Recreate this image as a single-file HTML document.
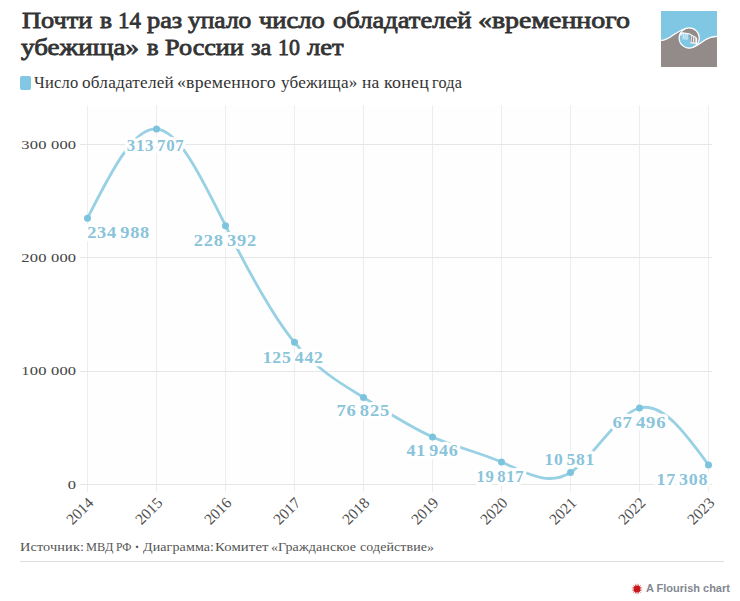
<!DOCTYPE html>
<html><head><meta charset="utf-8">
<style>
html,body{margin:0;padding:0;background:#fff;}
body{width:740px;height:601px;position:relative;overflow:hidden;font-family:"Liberation Serif",serif;color:#333;}
.t{position:absolute;white-space:nowrap;}
#title span{position:absolute;white-space:nowrap;font-size:23px;line-height:26px;color:#333;-webkit-text-stroke:0.8px #333;transform-origin:0 0;}
#leg span{position:absolute;white-space:nowrap;font-size:16px;letter-spacing:0.2px;color:#333;transform-origin:0 0;}
#sw{position:absolute;left:20px;top:76px;width:11px;height:14px;border-radius:2px;background:#82c8e5;}
#src span{position:absolute;white-space:nowrap;font-size:13.5px;letter-spacing:0.1px;color:#555;transform-origin:0 0;}
#hr{position:absolute;left:20px;top:561px;width:704px;height:1px;background:#ddd;}
#fl{left:646px;top:582px;font-family:"Liberation Sans",sans-serif;font-weight:bold;font-size:11px;color:#838890;}
svg{position:absolute;left:0;top:0;}
</style></head><body>
<div id="title"><span style="left:21.80px;top:8px;transform:scaleX(1.1452)">Почти</span><span style="left:99.70px;top:8px;transform:scaleX(1.1091)">в</span><span style="left:117.50px;top:8px;transform:scaleX(0.9955)">14</span><span style="left:147.00px;top:8px;transform:scaleX(1.1452)">раз</span><span style="left:187.70px;top:8px;transform:scaleX(1.1070)">упало</span><span style="left:258.90px;top:8px;transform:scaleX(1.1509)">число</span><span style="left:333.20px;top:8px;transform:scaleX(1.1558)">обладателей</span><span style="left:478.29px;top:8px;transform:scaleX(1.2121)">«временного</span><span style="left:21.40px;top:35px;transform:scaleX(1.1760)">убежища»</span><span style="left:146.60px;top:35px;transform:scaleX(1.0727)">в</span><span style="left:165.00px;top:35px;transform:scaleX(1.1377)">России</span><span style="left:251.10px;top:35px;transform:scaleX(1.0550)">за</span><span style="left:277.65px;top:35px;transform:scaleX(0.9500)">10</span><span style="left:307.00px;top:35px;transform:scaleX(1.1531)">лет</span></div>
<svg id="logo" style="left:661px;top:11px" width="56" height="56" viewBox="0 0 56 56">
  <rect width="56" height="56" fill="#80c7e3"/>
  <path fill="#928b8a" d="M0,29.4C5,29.4 9,26.5 13,23.5C16,21.2 20,18.9 24.75,17.5A10.1,10.1 0 0 0 31.65,36.5C36,34.9 40,32 44,29C48,26.5 52,25.5 56,25.3V56H0Z"/>
  <path fill="#928b8a" d="M19.73,21.5A10.1,10.1 0 0 1 37.69,30.45L35.5,32.6L29.6,31.9L28,22.8L20.6,21.8Z"/>
  <g fill="none" stroke="#fff" stroke-width="1.2" stroke-linecap="round">
    <path d="M0,29.4C5,29.4 9,26.5 13,23.5C16,21.2 20,18.9 24.75,17.5M31.65,36.5C36,34.9 40,32 44,29C48,26.5 52,25.5 56,25.3"/>
    <circle cx="28.2" cy="27" r="10.1"/>
    <path stroke-width="1.1" d="M19.9,24.2C20,22.6 20.5,21.9 21.6,21.9L28,22.8L34.8,26.6C35.5,27 35.6,27.8 35.6,28.5L35.5,32.4L29.6,31.8"/>
    <path stroke-width="0.85" d="M22.3,23L22.1,28M24.2,23.2L24,28.2M26.1,23.4L25.9,28.4M30.4,25.4L30.2,31.4M32.5,26.4L32.3,31.8M34.3,27.4L34.2,31.9"/>
  </g>
</svg>
<div id="sw"></div>
<div id="leg"><span style="left:33.70px;top:74px;transform:scaleX(1.0310)">Число</span><span style="left:81.90px;top:74px;transform:scaleX(1.0741)">обладателей</span><span style="left:177.19px;top:74px;transform:scaleX(1.1068)">«временного</span><span style="left:280.50px;top:74px;transform:scaleX(1.0704)">убежища»</span><span style="left:362.40px;top:74px;transform:scaleX(1.09)">на</span><span style="left:383.50px;top:74px;transform:scaleX(1.1225)">конец</span><span style="left:431.60px;top:74px;transform:scaleX(1.0100)">года</span></div>

<svg width="740" height="601" viewBox="0 0 740 601">
  <rect x="88" y="106" width="620" height="378" fill="#fefefe"/>
  <g stroke-width="1" fill="none">
    <path stroke="#ededed" d="M87.5,105.5V492M156.5,105.5V492M225.5,105.5V492M294.5,105.5V492M363.5,105.5V492M432.5,105.5V492M501.5,105.5V492M570.5,105.5V492M639.5,105.5V492M708.5,105.5V492"/>
    <path stroke="#e6e6e6" d="M80,144.5H712M80,257.5H712M80,371.5H712M80,484.5H712"/>
  </g>
  <g font-family="Liberation Serif" font-size="12.8" letter-spacing="0.15" fill="#444" text-anchor="end">
    <text transform="translate(76.3,148.7) scale(1.29,1)">300 000</text>
    <text transform="translate(76.3,262.0) scale(1.29,1)">200 000</text>
    <text transform="translate(76.3,375.4) scale(1.29,1)">100 000</text>
    <text transform="translate(76.3,488.8) scale(1.29,1)">0</text>
  </g>
  <g font-family="Liberation Serif" font-size="15.5" fill="#505050" text-anchor="end">
    <text transform="translate(94.5,503.7) rotate(-45)">2014</text>
    <text transform="translate(163.5,503.7) rotate(-45)">2015</text>
    <text transform="translate(232.5,503.7) rotate(-45)">2016</text>
    <text transform="translate(301.5,503.7) rotate(-45)">2017</text>
    <text transform="translate(370.5,503.7) rotate(-45)">2018</text>
    <text transform="translate(439.5,503.7) rotate(-45)">2019</text>
    <text transform="translate(508.5,503.7) rotate(-45)">2020</text>
    <text transform="translate(577.5,503.7) rotate(-45)">2021</text>
    <text transform="translate(646.5,503.7) rotate(-45)">2022</text>
    <text transform="translate(715.5,503.7) rotate(-45)">2023</text>
  </g>
  <path fill="none" stroke="#98d0e4" stroke-width="2.8" stroke-linecap="round" d="M87.50,218.18C110.50,172.69,133.50,127.20,156.50,128.97C179.50,130.73,202.50,179.74,225.50,225.66C248.50,271.58,271.50,314.40,294.50,342.33C317.50,370.26,340.50,383.29,363.50,397.43C386.50,411.58,409.50,426.84,432.50,436.96C455.50,447.08,478.50,452.07,501.50,462.04C524.50,472.01,547.50,486.97,570.50,472.51C593.50,458.05,616.50,414.18,639.50,408.00C662.50,401.83,685.50,433.36,708.50,464.88"/>
  <g font-family="Liberation Serif" font-weight="bold" font-size="17.2" letter-spacing="0.7" word-spacing="-2" fill="#8ac4da" stroke="#fff" stroke-width="6.5" stroke-linejoin="round" paint-order="stroke">
    <text transform="translate(87.15,237.7) scale(1.0705,1)">234 988</text>
    <text transform="translate(126.81,150.7) scale(0.9790,1)">313 707</text>
    <text transform="translate(193.73,245.7) scale(1.0758,1)">228 392</text>
    <text transform="translate(262.72,362.7) scale(1.0376,1)">125 442</text>
    <text transform="translate(336.51,416.2) scale(1.0810,1)">76 825</text>
    <text transform="translate(406.51,456.2) scale(1.0503,1)">41 946</text>
    <text transform="translate(476.46,481.7) scale(0.9660,1)">19 817</text>
    <text transform="translate(544.55,464.7) scale(1.0217,1)">10 581</text>
    <text transform="translate(612.44,427.7) scale(1.0898,1)">67 496</text>
    <text transform="translate(656.51,484.7) scale(1.0435,1)">17 308</text>
  </g>
  <g fill="#7cc4de">
    <circle cx="87.5" cy="218.18" r="3.5"/>
    <circle cx="156.5" cy="128.97" r="3.5"/>
    <circle cx="225.5" cy="225.66" r="3.5"/>
    <circle cx="294.5" cy="342.33" r="3.5"/>
    <circle cx="363.5" cy="397.43" r="3.5"/>
    <circle cx="432.5" cy="436.96" r="3.5"/>
    <circle cx="501.5" cy="462.04" r="3.5"/>
    <circle cx="570.5" cy="472.51" r="3.5"/>
    <circle cx="639.5" cy="408.00" r="3.5"/>
    <circle cx="708.5" cy="464.88" r="3.5"/>
  </g>
</svg>

<div id="src"><span style="left:20.44px;top:539px;transform:scaleX(1.0621)">Источник:</span><span style="left:85.99px;top:539px;transform:scaleX(0.9138)">МВД</span><span style="left:116.14px;top:539px;transform:scaleX(0.8588)">РФ</span><span style="left:134.6px;top:539px;font-weight:bold;font-size:15px;transform:scaleX(1)">·</span><span style="left:142.60px;top:539px;transform:scaleX(1.0388)">Диаграмма:</span><span style="left:215.41px;top:539px;transform:scaleX(1.0917)">Комитет</span><span style="left:271.16px;top:539px;transform:scaleX(1.0400)">«Гражданское</span><span style="left:359.70px;top:539px;transform:scaleX(1.0324)">содействие»</span></div>
<div id="hr"></div>
<svg style="left:631px;top:583px" width="12" height="12" viewBox="-6 -6 12 12"><polygon fill="#d42a2a" points="5.90,0.00 2.75,0.55 5.45,2.26 2.33,1.56 4.17,4.17 1.56,2.33 2.26,5.45 0.55,2.75 0.00,5.90 -0.55,2.75 -2.26,5.45 -1.56,2.33 -4.17,4.17 -2.33,1.56 -5.45,2.26 -2.75,0.55 -5.90,0.00 -2.75,-0.55 -5.45,-2.26 -2.33,-1.56 -4.17,-4.17 -1.56,-2.33 -2.26,-5.45 -0.55,-2.75 -0.00,-5.90 0.55,-2.75 2.26,-5.45 1.56,-2.33 4.17,-4.17 2.33,-1.56 5.45,-2.26 2.75,-0.55"/><circle r="3.2" fill="#c8161d"/></svg>
<div id="fl" class="t">A Flourish chart</div>
</body></html>
